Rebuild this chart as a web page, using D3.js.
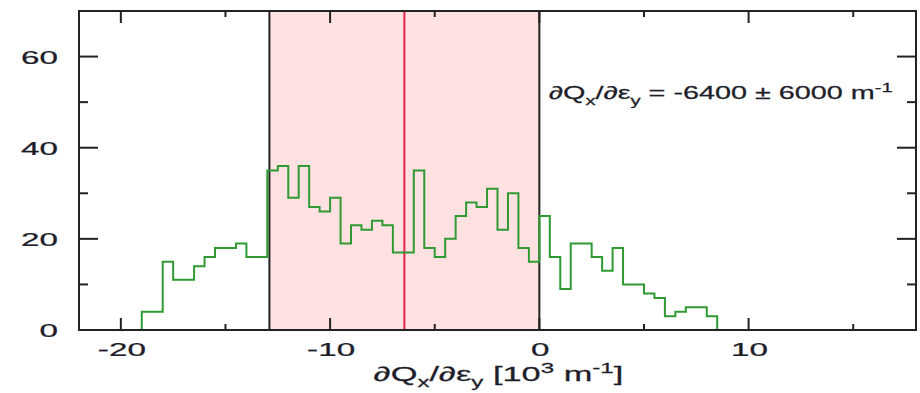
<!DOCTYPE html>
<html>
<head>
<meta charset="utf-8">
<script src="https://cdn.jsdelivr.net/npm/d3@7"></script>
<style>
  html, body { margin: 0; padding: 0; background: #fff; }
  svg { display: block; }
  text { font-family: "Liberation Sans", Arial, Helvetica, sans-serif; fill: #1e1e2a; stroke: #1e1e2a; stroke-width: 0.25; }
</style>
</head>
<body>
<svg id="chart" width="920" height="393"></svg>
<script>
// Histogram of fitted dQx/d(eps_y) values, in units of 10^3 m^-1
const binStart = -19;
const binWidth = 0.5;
const counts = [
  4, 4, 15, 11, 11, 14, 16, 18, 18, 19,
  16, 16, 35, 36, 29, 36, 27, 26, 29, 19,
  23, 22, 24, 23, 17, 17, 35, 18, 16, 20,
  25, 28, 27, 31, 22, 30, 18, 15, 25, 16,
  9, 19, 19, 16, 13, 18, 10, 10, 8, 7,
  3, 4, 5, 5, 3
];

// Mean and one-sigma band of the distribution
const meanValue = -6.45;
const bandEdges = [-12.9, 0];

// Axis ranges and ticks
const xDomain = [-22, 18];
const yDomain = [0, 70];
const xMajorTicks = [-20, -10, 0, 10];
const xMinorTicks = [-15, -5, 5, 15];
const yMajorTicks = [0, 20, 40, 60];
const yMinorTicks = [10, 30, 50];

const W = 920, H = 393;
const margin = { left: 79, right: 4, top: 11, bottom: 63 };
const iw = W - margin.left - margin.right;
const ih = H - margin.top - margin.bottom;

const svg = d3.select("#chart");
const g = svg.append("g").attr("transform", `translate(${margin.left},${margin.top})`);

const x = d3.scaleLinear().domain(xDomain).range([0, iw]);
const y = d3.scaleLinear().domain(yDomain).range([ih, 0]);

// shaded one-sigma band
g.append("rect")
  .attr("x", x(bandEdges[0]))
  .attr("y", 0)
  .attr("width", x(bandEdges[1]) - x(bandEdges[0]))
  .attr("height", ih)
  .attr("fill", "#ffe1e1");

// band edges
g.selectAll("line.edge").data(bandEdges).join("line")
  .attr("class", "edge")
  .attr("x1", d => x(d)).attr("x2", d => x(d))
  .attr("y1", 0).attr("y2", ih)
  .attr("stroke", "#222").attr("stroke-width", 2);

// mean line
g.append("line")
  .attr("x1", x(meanValue)).attr("x2", x(meanValue))
  .attr("y1", 0).attr("y2", ih)
  .attr("stroke", "#e3224a").attr("stroke-width", 2);

// histogram outline as a step path
const pts = [[binStart, 0]];
counts.forEach((c, i) => {
  const x0 = binStart + i * binWidth;
  pts.push([x0, c], [x0 + binWidth, c]);
});
pts.push([binStart + counts.length * binWidth, 0]);
g.append("path")
  .attr("d", d3.line().x(d => x(d[0])).y(d => y(d[1]))(pts))
  .attr("fill", "none")
  .attr("stroke", "#2f9a33")
  .attr("stroke-width", 2);

// ticks on all four sides
const frameColor = "#222";
function vTicks(vals, len) {
  vals.forEach(v => {
    g.append("line").attr("x1", x(v)).attr("x2", x(v)).attr("y1", ih).attr("y2", ih - len)
      .attr("stroke", frameColor).attr("stroke-width", 2);
    g.append("line").attr("x1", x(v)).attr("x2", x(v)).attr("y1", 0).attr("y2", len)
      .attr("stroke", frameColor).attr("stroke-width", 2);
  });
}
function hTicks(vals, len) {
  vals.forEach(v => {
    g.append("line").attr("x1", 0).attr("x2", len).attr("y1", y(v)).attr("y2", y(v))
      .attr("stroke", frameColor).attr("stroke-width", 2);
    g.append("line").attr("x1", iw).attr("x2", iw - len).attr("y1", y(v)).attr("y2", y(v))
      .attr("stroke", frameColor).attr("stroke-width", 2);
  });
}
vTicks(xMajorTicks, 12);
vTicks(xMinorTicks, 6);
hTicks(yMajorTicks, 19);
hTicks(yMinorTicks, 9);

// frame
g.append("rect").attr("x", 0).attr("y", 0).attr("width", iw).attr("height", ih)
  .attr("fill", "none").attr("stroke", frameColor).attr("stroke-width", 2);

// tick labels (wide, stretched glyphs)
const labelStretch = 1.75;
xMajorTicks.forEach(v => {
  g.append("text")
    .attr("transform", `translate(${x(v) + 1},${ih + 26}) scale(${labelStretch},1)`)
    .attr("text-anchor", "middle")
    .attr("font-size", 19)
    .text(v);
});
yMajorTicks.forEach(v => {
  g.append("text")
    .attr("transform", `translate(-21,${y(v) + 7}) scale(${labelStretch},1)`)
    .attr("text-anchor", "end")
    .attr("font-size", 19)
    .text(v);
});

// axis title
function derivText(sel, size) {
  sel.append("tspan").text("\u2202Q");
  sel.append("tspan").attr("font-size", size * 0.7).attr("dy", size * 0.3).text("x");
  sel.append("tspan").attr("dy", -size * 0.3).text("/\u2202\u03b5");
  sel.append("tspan").attr("font-size", size * 0.7).attr("dy", size * 0.3).text("y");
}
const tsz = 20;
const title = g.append("text")
  .attr("transform", `translate(${iw / 2 + 1},${ih + 51}) scale(1.72,1)`)
  .attr("text-anchor", "middle")
  .attr("font-size", tsz);
derivText(title, tsz);
title.append("tspan").attr("dy", -tsz * 0.3).text(" [10");
title.append("tspan").attr("font-size", tsz * 0.7).attr("dy", -tsz * 0.4).text("3");
title.append("tspan").attr("dy", tsz * 0.4).text(" m");
title.append("tspan").attr("font-size", tsz * 0.7).attr("dy", -tsz * 0.4).text("-1");
title.append("tspan").attr("dy", tsz * 0.4).text("]");

// annotation with the fitted result
const asz = 18;
const note = g.append("text")
  .attr("transform", `translate(${x(0.45)},${y(50.6)}) scale(1.6,1)`)
  .attr("text-anchor", "start")
  .attr("font-size", asz);
derivText(note, asz);
note.append("tspan").attr("dy", -asz * 0.3).text(" = -6400 \u00b1 6000 m");
note.append("tspan").attr("font-size", asz * 0.7).attr("dy", -asz * 0.4).text("-1");
</script>
</body>
</html>
